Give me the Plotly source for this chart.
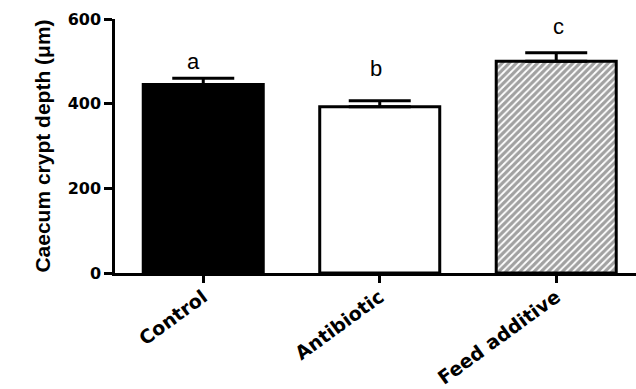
import plotly.graph_objects as go

categories = ["Control", "Antibiotic", "Feed additive"]
means = [445, 393, 500]
sem = [15, 14, 20]
letters = ["a", "b", "c"]
letter_y = [466, 449, 549]
y_ticks = [0, 200, 400, 600]

fill_colors = ["black", "white", "white"]
patterns = ["", "", "/"]
letter_xshift = [-10, -4, 2]

fig = go.Figure()
fig.add_trace(go.Bar(
    x=categories, y=means, width=0.68,
    marker=dict(
        color=fill_colors,
        line=dict(color="black", width=3),
        pattern=dict(shape=patterns, fgcolor="black", bgcolor="white",
                     size=5, solidity=0.65, fillmode="overlay"),
    ),
    error_y=dict(type="data", array=sem, arrayminus=[0, 0, 0], symmetric=False,
                 color="black", thickness=3, width=31),
    showlegend=False,
))

for c, l, yv, xs in zip(categories, letters, letter_y, letter_xshift):
    fig.add_annotation(x=c, y=yv, text=l, showarrow=False, yanchor="bottom", xshift=xs,
                       font=dict(family="Liberation Sans, Arial", size=22, color="black"))

fig.update_layout(
    width=636, height=389,
    margin=dict(l=115, r=0, t=19, b=116),
    paper_bgcolor="white", plot_bgcolor="white",
    xaxis=dict(range=[-0.5, 2.452], showline=True, linecolor="black", linewidth=2.5,
               ticks="outside", ticklen=7, tickwidth=2.5, tickcolor="black",
               tickangle=-36, ticklabelstandoff=-4, showgrid=False, zeroline=False,
               automargin=False,
               tickfont=dict(family="DejaVu Sans", size=19, color="black", weight="bold")),
    yaxis=dict(range=[0, 600], tickvals=y_ticks, showline=True, linecolor="black",
               linewidth=2.5, ticks="outside", ticklen=8, tickwidth=2.5,
               tickcolor="black", showgrid=False, zeroline=False, automargin=False,
               tickfont=dict(family="DejaVu Sans", size=16, color="black", weight="bold"),
               title=dict(text="Caecum crypt depth (μm)", standoff=12,
                          font=dict(family="Liberation Sans Narrow, Liberation Sans", size=21,
                                    color="black", weight="bold"))),
)

fig.write_html("out.html", config={"displayModeBar": False},
               post_script="document.body.style.margin='0';")
